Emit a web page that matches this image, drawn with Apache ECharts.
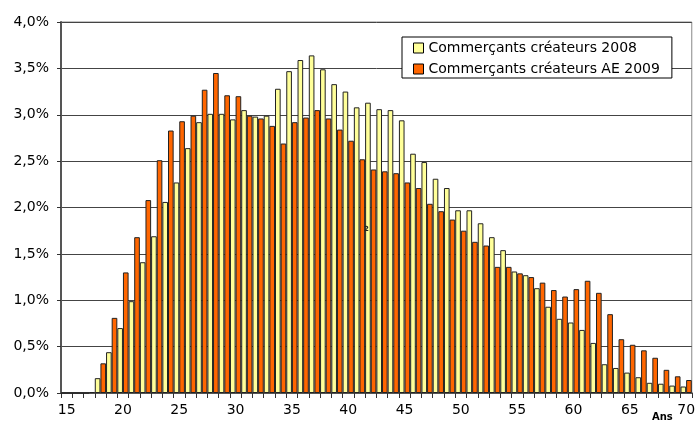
<!DOCTYPE html>
<html>
<head>
<meta charset="utf-8">
<script src="https://cdn.jsdelivr.net/npm/echarts@6/dist/echarts.min.js"></script>
<style>
html,body{margin:0;padding:0;background:#fff;}
#chart{width:698px;height:423px;}
</style>
</head>
<body>
<div id="chart"></div>
<script>
var ages = [15,16,17,18,19,20,21,22,23,24,25,26,27,28,29,30,31,32,33,34,35,36,37,38,39,40,41,42,43,44,45,46,47,48,49,50,51,52,53,54,55,56,57,58,59,60,61,62,63,64,65,66,67,68,69,70];
var seriesNames = ['Commerçants créateurs 2008', 'Commerçants créateurs AE 2009'];
var createurs2008 = [0,0,0,0.16,0.44,0.70,0.99,1.41,1.69,2.06,2.27,2.64,2.92,3.01,3.01,2.95,3.05,2.98,2.99,3.28,3.47,3.59,3.64,3.49,3.33,3.25,3.08,3.13,3.06,3.05,2.94,2.58,2.49,2.31,2.21,1.97,1.97,1.83,1.68,1.54,1.31,1.27,1.13,0.93,0.80,0.76,0.68,0.54,0.31,0.27,0.22,0.17,0.11,0.10,0.08,0.07];
var createursAE2009 = [0,0,0.01,0.32,0.81,1.30,1.68,2.08,2.51,2.83,2.93,2.99,3.27,3.45,3.21,3.20,2.99,2.96,2.88,2.69,2.92,2.97,3.05,2.96,2.84,2.72,2.52,2.41,2.39,2.37,2.27,2.21,2.04,1.96,1.87,1.75,1.63,1.59,1.36,1.36,1.29,1.25,1.19,1.11,1.04,1.12,1.21,1.08,0.85,0.58,0.52,0.46,0.38,0.25,0.18,0.14];
var xAxisTitle = 'Ans';
var strayText = '2';

var FONT = 'DejaVu Sans';
var chart = echarts.init(document.getElementById('chart'), null, {renderer:'canvas'});
chart.setOption({
  animation: false,
  backgroundColor: '#fff',
  grid: {left: 61, right: 1, top: 22, bottom: 30, show: true, borderColor: '#888', borderWidth: 1, backgroundColor: 'transparent'},
  legend: {
    orient: 'vertical', left: 402, top: 37,
    icon: 'rect', itemWidth: 10, itemHeight: 10, itemGap: 7,
    padding: [4, 12, 2, 11],
    backgroundColor: '#fff', borderColor: '#000', borderWidth: 1,
    textStyle: {fontFamily: FONT, fontSize: 14, color: '#000'},
    itemStyle: {borderColor: '#000', borderWidth: 1},
    data: seriesNames
  },
  xAxis: {
    type: 'category', data: ages,
    axisLine: {lineStyle: {color: '#555', width: 2}},
    axisTick: {show: true, interval: 0, length: 5, lineStyle: {color: '#333', width: 1}},
    axisLabel: {interval: 4, margin: 10, color: '#000', fontFamily: FONT, fontSize: 14},
    splitLine: {show: false}
  },
  yAxis: {
    type: 'value', min: 0, max: 4, interval: 0.5,
    axisLine: {show: true, lineStyle: {color: '#555', width: 2}},
    axisTick: {show: true, length: 4, lineStyle: {color: '#333'}},
    axisLabel: {margin: 12, color: '#000', fontFamily: FONT, fontSize: 14,
      formatter: function(v){ return v.toFixed(1).replace('.', ',') + '%'; }},
    splitLine: {show: true, lineStyle: {color: '#444', width: 1}}
  },
  series: [
    {name: seriesNames[0], type: 'bar', data: createurs2008, barGap: '0%', barCategoryGap: '0%',
     itemStyle: {color: '#FFFF99', borderColor: '#222', borderWidth: 1}},
    {name: seriesNames[1], type: 'bar', data: createursAE2009, barGap: '0%', barCategoryGap: '0%',
     itemStyle: {color: '#FF6600', borderColor: '#222', borderWidth: 1}}
  ],
  graphic: [
    {type: 'text', z: 100, left: 652, top: 412, style: {text: xAxisTitle, font: 'bold 10px "DejaVu Sans"', fill: '#000'}},
    {type: 'text', z: 100, left: 364, top: 226, style: {text: strayText, font: 'bold 7px "DejaVu Sans"', fill: '#222'}}
  ]
});
</script>
</body>
</html>
